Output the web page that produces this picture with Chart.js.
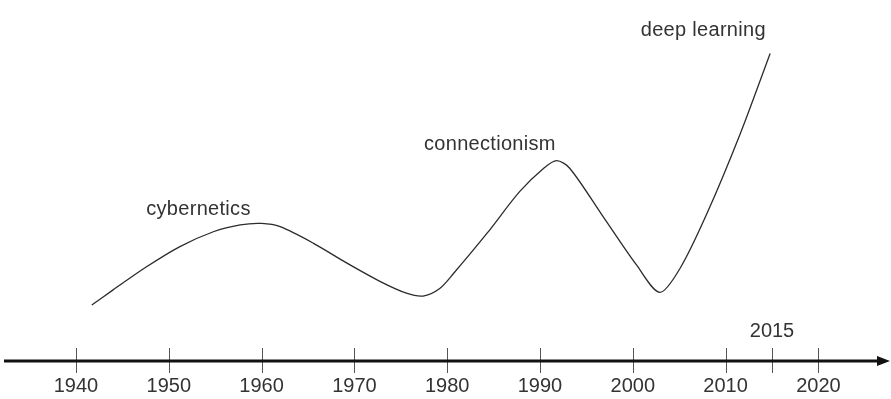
<!DOCTYPE html>
<html>
<head>
<meta charset="utf-8">
<style>
  html, body { margin: 0; padding: 0; background: #fff; }
  #c { display: block; }
</style>
<script src="https://cdn.jsdelivr.net/npm/chart.js@4.4.1/dist/chart.umd.min.js"></script>
</head>
<body>
<canvas id="c" width="891" height="399"></canvas>
<script>
// ---- data ----
const years = [1941.7, 1944.0, 1947.6, 1951.2, 1954.8, 1957.7, 1960.0, 1962.0, 1965.6, 1969.2, 1972.8,
               1975.6, 1977.4, 1979.2, 1980.7, 1984.3, 1987.8, 1990.4, 1991.8, 1993.2, 1996.8,
               2000.4, 2002.9, 2005.1, 2008.0, 2011.6, 2014.8];
const interest = [15.5, 19.7, 26.1, 31.7, 35.8, 37.7, 38.1, 37.2, 32.6, 27.1, 22.0,
                  18.8, 18.0, 20.1, 24.3, 35.4, 46.9, 53.4, 55.5, 53.4, 40.0,
                  26.6, 19.0, 25.7, 40.9, 63.1, 85.2];
const tickYears = [1940, 1950, 1960, 1970, 1980, 1990, 2000, 2010, 2015, 2020];
const tickLabelsBelow = ['1940', '1950', '1960', '1970', '1980', '1990', '2000', '2010', '', '2020'];
const tickLabelsAbove = ['', '', '', '', '', '', '', '', '2015', ''];
const waveNames = ['cybernetics', 'connectionism', 'deep learning'];
const waveYears = [1953.2, 1984.6, 2007.6];
const waveLevels = [40.4, 58.4, 90.0];

const points = years.map((y, i) => ({ x: y, y: interest[i] }));

const FONT = '20px "Liberation Sans", Arial, Helvetica, sans-serif';

const timelinePlugin = {
  id: 'timeline',
  afterDraw(chart) {
    const ctx = chart.ctx;
    const xs = chart.scales.x, ys = chart.scales.y;
    const axisY = ys.getPixelForValue(0);
    ctx.save();
    // tick marks
    ctx.strokeStyle = '#555';
    ctx.lineWidth = 1;
    tickYears.forEach(t => {
      const px = Math.round(xs.getPixelForValue(t)) + 0.5;
      ctx.beginPath();
      ctx.moveTo(px, axisY - 13);
      ctx.lineTo(px, axisY + 12);
      ctx.stroke();
    });
    // main axis line with arrow
    ctx.strokeStyle = '#111';
    ctx.lineWidth = 3.2;
    ctx.beginPath();
    ctx.moveTo(4, axisY);
    ctx.lineTo(880, axisY);
    ctx.stroke();
    ctx.fillStyle = '#111';
    ctx.beginPath();
    ctx.moveTo(890, axisY);
    ctx.lineTo(877, axisY - 5);
    ctx.lineTo(877, axisY + 5);
    ctx.closePath();
    ctx.fill();
    // tick labels
    ctx.font = FONT;
    ctx.fillStyle = '#333';
    ctx.textAlign = 'center';
    ctx.textBaseline = 'alphabetic';
    tickYears.forEach((t, i) => {
      const px = xs.getPixelForValue(t);
      if (tickLabelsBelow[i]) ctx.fillText(tickLabelsBelow[i], px, axisY + 31);
      if (tickLabelsAbove[i]) ctx.fillText(tickLabelsAbove[i], px, axisY - 24);
    });
    // wave names
    try { ctx.letterSpacing = '0.3px'; } catch (e) {}
    waveNames.forEach((n, i) => {
      ctx.fillText(n, xs.getPixelForValue(waveYears[i]), ys.getPixelForValue(waveLevels[i]));
    });
    ctx.restore();
  }
};

new Chart(document.getElementById('c'), {
  type: 'line',
  data: {
    datasets: [{
      data: points,
      borderColor: '#2b2b2b',
      borderWidth: 1.3,
      pointRadius: 0,
      fill: false,
      tension: 0.3
    }]
  },
  options: {
    responsive: false,
    animation: false,
    devicePixelRatio: 1,
    layout: { padding: { left: 5, right: 3, top: 0, bottom: 38 } },
    plugins: { legend: { display: false }, tooltip: { enabled: false } },
    scales: {
      x: { type: 'linear', display: false, min: 1932.35, max: 2027.5 },
      y: { type: 'linear', display: false, min: 0, max: 100 }
    }
  },
  plugins: [timelinePlugin]
});
</script>
</body>
</html>
